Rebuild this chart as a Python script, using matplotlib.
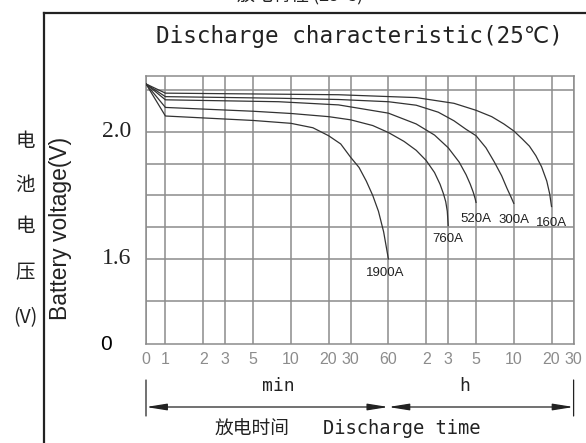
import matplotlib
matplotlib.use('Agg')
import matplotlib.pyplot as plt
import numpy as np
from matplotlib.lines import Line2D
from matplotlib.ticker import NullLocator

# ---- data (time in minutes, voltage in V) ----
tick_minutes = [0, 1, 2, 3, 5, 10, 20, 30, 60, 120, 180, 300, 600, 1200, 1800]
tick_labels = ['0', '1', '2', '3', '5', '10', '20', '30', '60',
               '2', '3', '5', '10', '20', '30']
volt_grid = [1.468, 1.6, 1.7, 1.8, 1.9, 2.0, 2.131]

t_1900 = [0, 1, 5, 10, 15, 20, 25, 30, 35, 40, 45, 50, 55, 60]
v_1900 = [2.151, 2.050, 2.036, 2.027, 2.013, 1.988, 1.962, 1.920, 1.888,
          1.845, 1.800, 1.750, 1.685, 1.600]

t_760 = [0, 1, 5, 10, 20, 30, 45, 60, 80, 100, 120, 140, 155, 165, 172, 177, 180]
v_760 = [2.151, 2.077, 2.065, 2.058, 2.048, 2.038, 2.020, 1.998, 1.970,
         1.942, 1.910, 1.872, 1.835, 1.805, 1.780, 1.750, 1.705]

t_520 = [0, 1, 8, 24, 60, 100, 140, 180, 220, 250, 270, 285, 295, 300]
v_520 = [2.151, 2.101, 2.095, 2.085, 2.059, 2.025, 1.990, 1.950, 1.905,
         1.865, 1.835, 1.810, 1.790, 1.778]

t_300 = [0, 1, 8, 24, 60, 100, 150, 200, 250, 300, 360, 420, 480, 530, 570, 600]
v_300 = [2.151, 2.111, 2.106, 2.102, 2.095, 2.084, 2.062, 2.035, 2.008,
         1.988, 1.950, 1.905, 1.862, 1.822, 1.795, 1.775]

t_160 = [0, 1, 24, 100, 200, 300, 400, 500, 600, 700, 800, 900, 1000, 1100, 1160, 1200]
v_160 = [2.151, 2.122, 2.117, 2.108, 2.090, 2.068, 2.048, 2.025, 2.003,
         1.978, 1.955, 1.925, 1.890, 1.845, 1.805, 1.765]

curve_names = ['1900A', '760A', '520A', '300A', '160A']
curve_times = [t_1900, t_760, t_520, t_300, t_160]
curve_volts = [v_1900, v_760, v_520, v_300, v_160]
label_offsets = [(-2, -10), (0, -10), (0, -12), (0, -12), (0, -12)]  # points

# ---- layout ----
W, H = 586, 443
X0 = 0.7            # where "0 min" sits on the log axis
V_BOTTOM, V_TOP = 1.332, 2.176

SANS = 'Liberation Sans'
MONO = ['DejaVu Sans Mono', 'DejaVu Sans']
CJK = ['Noto Sans CJK SC', 'DejaVu Sans']
GRID = '#8c8c8c'
INK = '#222222'


def px(x, y):
    """pixel position (from top-left) -> figure fraction"""
    return x / W, 1 - y / H


def to_axis(t):
    t = np.asarray(t, dtype=float)
    return np.where(t == 0, X0, t)


fig = plt.figure(figsize=(W / 100, H / 100), dpi=100)
fig.patch.set_facecolor('white')
ax = fig.add_axes([146 / W, 1 - 344 / H, (573.6 - 146) / W, 268 / H])

for t, v in zip(curve_times, curve_volts):
    ax.plot(to_axis(t), v, color='#333333', lw=0.9, zorder=3)

for name, t, v, off in zip(curve_names, curve_times, curve_volts, label_offsets):
    ax.annotate(name, xy=(t[-1], v[-1]), xytext=off, textcoords='offset points',
                ha='center', va='center', fontsize=9.5, family=SANS, color=INK)

ax.set_xscale('log')
ax.set_xlim(X0, 1800)
ax.set_ylim(V_BOTTOM, V_TOP)
ax.set_xticks(to_axis(tick_minutes))
ax.set_xticklabels(tick_labels, family=SANS, fontsize=11.5, color='#8c8c8c')
ax.xaxis.set_minor_locator(NullLocator())
ax.set_yticks(volt_grid)
ax.set_yticklabels([])
ax.tick_params(axis='both', length=0)
ax.tick_params(axis='x', pad=6)
ax.grid(True, color=GRID, lw=1.1)
for s in ax.spines.values():
    s.set_color(GRID)
    s.set_linewidth(1.1)

# y labels (broken axis: bottom is marked 0)
ax.text(-0.068, 2.0, '2.0', transform=ax.get_yaxis_transform(), ha='center',
        va='center', fontsize=17, family='Liberation Serif', color=INK)
ax.text(-0.068, 1.6, '1.6', transform=ax.get_yaxis_transform(), ha='center',
        va='center', fontsize=17, family='Liberation Serif', color=INK)
ax.text(-0.094, V_BOTTOM, '0', transform=ax.get_yaxis_transform(), ha='center',
        va='center', fontsize=15, family=SANS, color='black')

# dimension arrows under the time axis
y_arrow = H - 407
for a, b in [(X0, 60), (60, 1800)]:
    ax.annotate('', xy=(b, y_arrow), xytext=(a, y_arrow),
                xycoords=('data', 'figure pixels'), textcoords=('data', 'figure pixels'),
                annotation_clip=False,
                arrowprops=dict(arrowstyle='<|-|>,head_length=1.25,head_width=0.2',
                                mutation_scale=10, color=INK, lw=0.9,
                                shrinkA=0, shrinkB=0))
for a in [X0, 1800]:
    ax.annotate('', xy=(a, H - 380), xytext=(a, H - 416),
                xycoords=('data', 'figure pixels'), textcoords=('data', 'figure pixels'),
                annotation_clip=False,
                arrowprops=dict(arrowstyle='-', color=INK, lw=0.9, shrinkA=0, shrinkB=0))

fig.text(*px(278, 386), 'min', ha='center', va='center', fontsize=13, family=MONO, color=INK)
fig.text(*px(465, 386), 'h', ha='center', va='center', fontsize=13, family=MONO, color=INK)
fig.text(*px(252, 429), '放电时间', ha='center', va='center', fontsize=13.5, family=CJK, color=INK)
fig.text(*px(402, 429), 'Discharge time', ha='center', va='center', fontsize=13.5,
         family=MONO, color=INK)

# titles (the upper one is cut by the image edge, as in the source)
fig.text(*px(300, 5), '放电特性 (25℃)', ha='center', va='bottom', fontsize=13,
         family=CJK, color=INK)
fig.text(*px(359.5, 37), 'Discharge characteristic(25℃)', ha='center', va='center',
         fontsize=16.3, family=MONO, color=INK)

# left labels
fig.text(*px(60, 228), 'Battery voltage(V)', rotation=90, ha='center', va='center',
         fontsize=16.5, family=SANS, color=INK)
for ch, y in zip(['电', '池', '电', '压', '(V)'], [141.7, 185, 226.7, 273, 318]):
    fig.text(*px(25, y), ch, ha='center', va='center', fontsize=14, family=CJK, color=INK)

# outer frame
fig.add_artist(Line2D([44 / W, 44 / W], [0, 1 - 12.7 / H], transform=fig.transFigure,
                      color=INK, lw=1.6))
fig.add_artist(Line2D([44 / W, 1], [1 - 12.7 / H, 1 - 12.7 / H], transform=fig.transFigure,
                      color=INK, lw=1.6))

fig.savefig('out.png', dpi=100, facecolor='white')
